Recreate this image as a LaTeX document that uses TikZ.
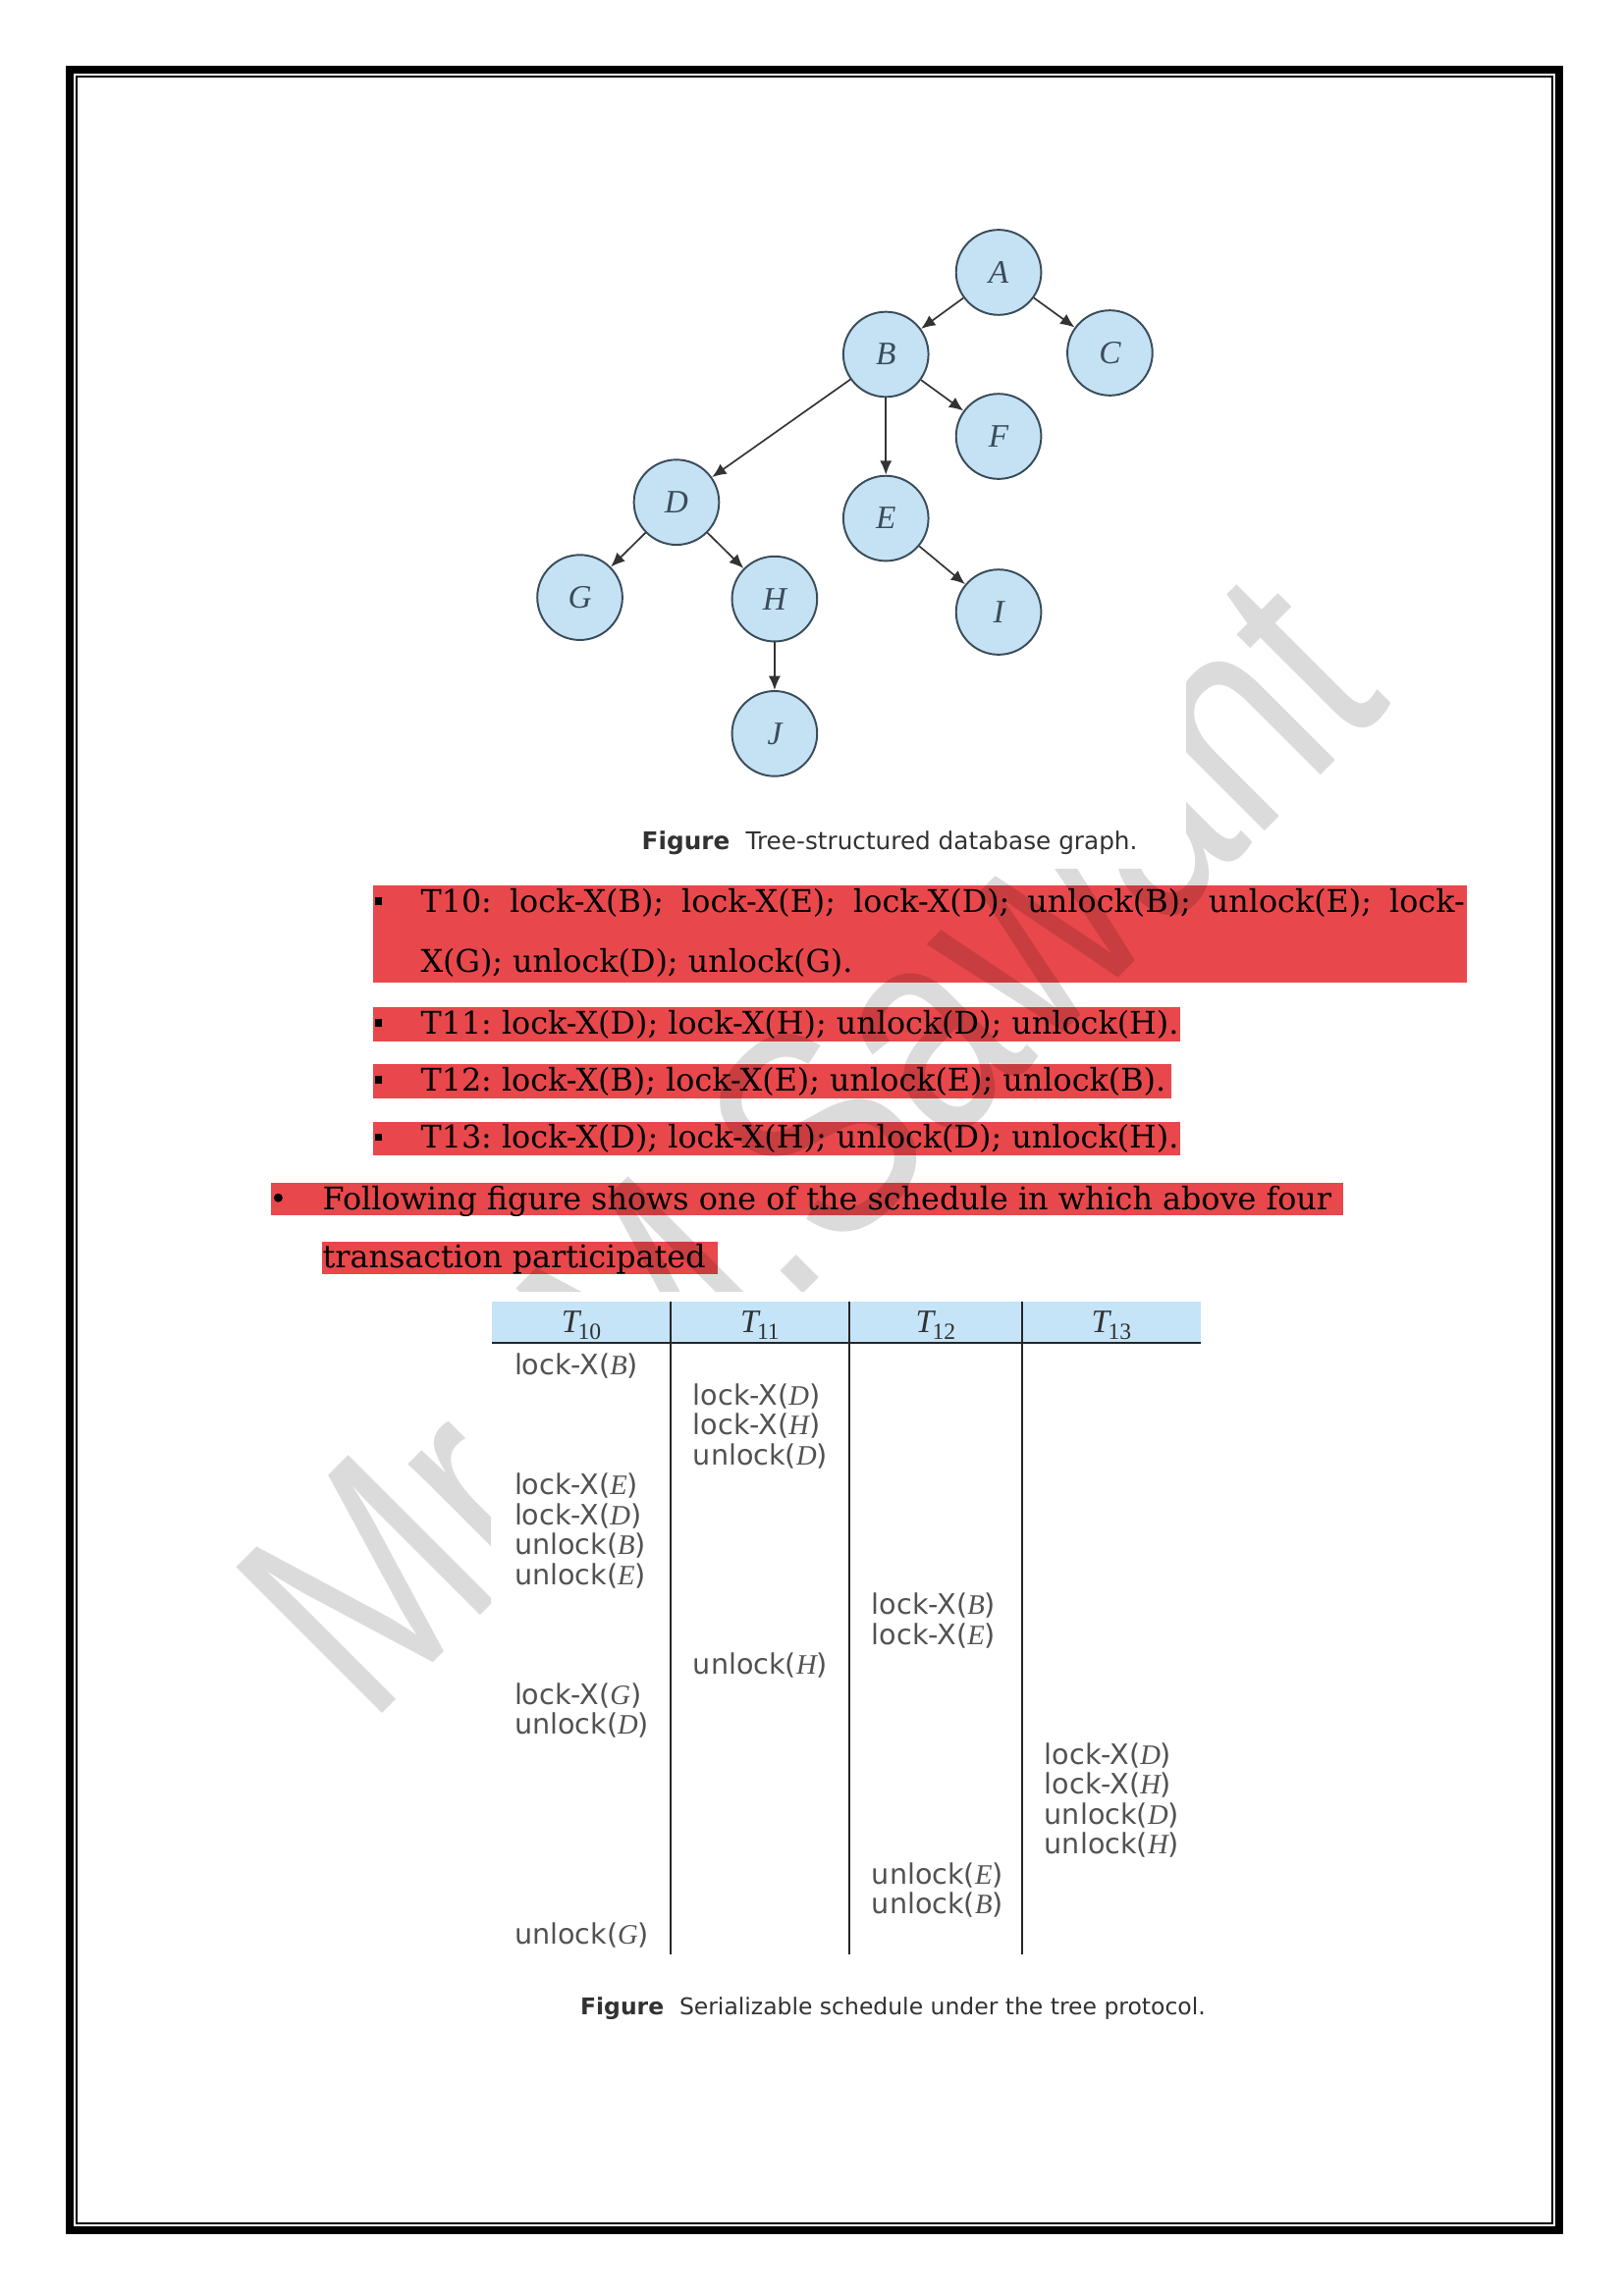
\documentclass[tikz,border=0pt]{standalone}
\usepackage{fontspec}
\setmainfont{DejaVu Serif}
\newfontfamily\dsans{DejaVu Sans}
\newfontfamily\tms{Liberation Serif}
\newfontfamily\wmfont{Liberation Sans}
\usetikzlibrary{arrows.meta}
\definecolor{hl}{RGB}{232,72,75}
\definecolor{nodefill}{RGB}{197,226,245}
\definecolor{nodeline}{RGB}{58,76,90}
\definecolor{hdr}{RGB}{197,228,247}
\definecolor{tabtext}{RGB}{82,82,82}
\definecolor{captext}{RGB}{50,50,50}
\newcommand\lv[1]{{\tms\itshape #1}}
\newcommand\hdrT[1]{{\tms\fontsize{12}{12}\selectfont\itshape T\kern-0.6pt\raisebox{-2.6pt}{\upshape\fontsize{8.5}{8.5}\selectfont #1}}}
\frenchspacing
\begin{document}
\begin{tikzpicture}[x=0.53679pt,y=-0.53694pt,
  tnode/.style={circle,draw=nodeline,fill=nodefill,line width=0.7pt,minimum size=31.2pt,inner sep=0pt,
    font=\tms\itshape\fontsize{12}{12}\selectfont,text=nodeline},
  tedge/.style={-{Latex[length=5.2pt,width=4.4pt]},line width=0.6pt,draw=black!80},
  body/.style={anchor=base west,inner sep=0pt,font=\fontsize{11.45}{13}\selectfont},
  entry/.style={anchor=west,inner sep=0pt,text=tabtext,font=\dsans\fontsize{10.3}{11}\selectfont},
  figcap/.style={anchor=base west,inner sep=0pt,text=captext},
  hdrtext/.style={inner sep=0pt,text=captext},
  colline/.style={line width=0.7pt,draw=black!85}]
\useasboundingbox (0,0) rectangle (1109,1568);
\fill[white] (0,0) rectangle (1109,1568);
% page border
\draw[line width=3pt] (47.5,47.5) rectangle (1064.8,1523);
\draw[line width=0.7pt] (52.2,52.2) rectangle (1060.1,1518.1);
% highlighted list
\fill[hl] (255,605) rectangle (1002,671);
\fill[hl] (255,688) rectangle (806,711);
\fill[hl] (255,727) rectangle (800,750);
\fill[hl] (255,766) rectangle (806,789);
\fill[hl] (185,808) rectangle (917,830);
\fill[hl] (220,848) rectangle (490,870);
\fill (256,613) rectangle (261,618);
\fill (256,696) rectangle (261,701);
\fill (256,735) rectangle (261,740);
\fill (256,774) rectangle (261,779);
\fill (190,818) circle (3);
\node[body] (t10a) at (287,623) {\makebox[382.7pt][s]{T10: lock-X(B); lock-X(E); lock-X(D); unlock(B); unlock(E); lock-}};
\node[body] (t10b) at (287,664) {X(G); unlock(D); unlock(G).};
\node[body] (t11) at (287,706) {T11: lock-X(D); lock-X(H); unlock(D); unlock(H).};
\node[body] (t12) at (287,745) {T12: lock-X(B); lock-X(E); unlock(E); unlock(B).};
\node[body] (t13) at (287,784) {T13: lock-X(D); lock-X(H); unlock(D); unlock(H).};
\node[body] (fol) at (220,826) {Following figure shows one of the schedule in which above four};
\node[body] (tra) at (220,866) {transaction participated};
% watermark (under the two figures)
\node[rotate=45,inner sep=0pt,text=black,text opacity=0.14,font=\wmfont\fontsize{110}{110}\selectfont] (wm) at (552,780) {\scalebox{0.79}[1]{Mr. M.Sawant}};
% opaque figure areas
\fill[white] (340,140) rectangle (810,593);
\fill[white] (335,882) rectangle (822,1392);
% tree
\node[tnode] (A) at (682,186) {A};
\node[tnode] (B) at (605,242) {B};
\node[tnode] (C) at (758,241) {C};
\node[tnode] (F) at (682,298) {F};
\node[tnode] (D) at (462,343) {D};
\node[tnode] (E) at (605,354) {E};
\node[tnode] (G) at (396,408) {G};
\node[tnode] (H) at (529,409) {H};
\node[tnode] (I) at (682,418) {I};
\node[tnode] (J) at (529,501) {J};
\draw[tedge] (A) -- (B);
\draw[tedge] (A) -- (C);
\draw[tedge] (B) -- (F);
\draw[tedge] (B) -- (D);
\draw[tedge] (B) -- (E);
\draw[tedge] (D) -- (G);
\draw[tedge] (D) -- (H);
\draw[tedge] (E) -- (I);
\draw[tedge] (H) -- (J);
\node[figcap,font=\dsans\fontsize{8.9}{10}\selectfont] (cap1) at (438,580) {\textbf{Figure}\hspace{3pt} Tree-structured database graph.};
% schedule table
\fill[hdr] (336,889) rectangle (820,917);
\draw[line width=0.9pt,draw=black!85] (336,917) -- (820,917);
\draw[colline] (458,889) -- (458,1335);
\draw[colline] (580,889) -- (580,1335);
\draw[colline] (698,889) -- (698,1335);
\node[hdrtext] (h10) at (397,905) {\hdrT{10}};
\node[hdrtext] (h11) at (519,905) {\hdrT{11}};
\node[hdrtext] (h12) at (639,905) {\hdrT{12}};
\node[hdrtext] (h13) at (759,905) {\hdrT{13}};
% column T10
\node[entry] (a0) at (351,933.0) {lock-X(\lv{B})};
\node[entry] (a4) at (351,1014.8) {lock-X(\lv{E})};
\node[entry] (a5) at (351,1035.3) {lock-X(\lv{D})};
\node[entry] (a6) at (351,1055.7) {unlock(\lv{B})};
\node[entry] (a7) at (351,1076.2) {unlock(\lv{E})};
\node[entry] (a11) at (351,1157.9) {lock-X(\lv{G})};
\node[entry] (a12) at (351,1178.4) {unlock(\lv{D})};
\node[entry] (a19) at (351,1321.6) {unlock(\lv{G})};
% column T11
\node[entry] (b1) at (473,953.5) {lock-X(\lv{D})};
\node[entry] (b2) at (473,973.9) {lock-X(\lv{H})};
\node[entry] (b3) at (473,994.4) {unlock(\lv{D})};
\node[entry] (b10) at (473,1137.5) {unlock(\lv{H})};
% column T12
\node[entry] (c8) at (595,1096.6) {lock-X(\lv{B})};
\node[entry] (c9) at (595,1117.1) {lock-X(\lv{E})};
\node[entry] (c17) at (595,1280.7) {unlock(\lv{E})};
\node[entry] (c18) at (595,1301.1) {unlock(\lv{B})};
% column T13
\node[entry] (d13) at (713,1198.9) {lock-X(\lv{D})};
\node[entry] (d14) at (713,1219.3) {lock-X(\lv{H})};
\node[entry] (d15) at (713,1239.8) {unlock(\lv{D})};
\node[entry] (d16) at (713,1260.2) {unlock(\lv{H})};
\node[figcap,font=\dsans\fontsize{8.45}{10}\selectfont] (cap2) at (396,1376) {\textbf{Figure}\hspace{3pt} Serializable schedule under the tree protocol.};
\end{tikzpicture}
\end{document}
